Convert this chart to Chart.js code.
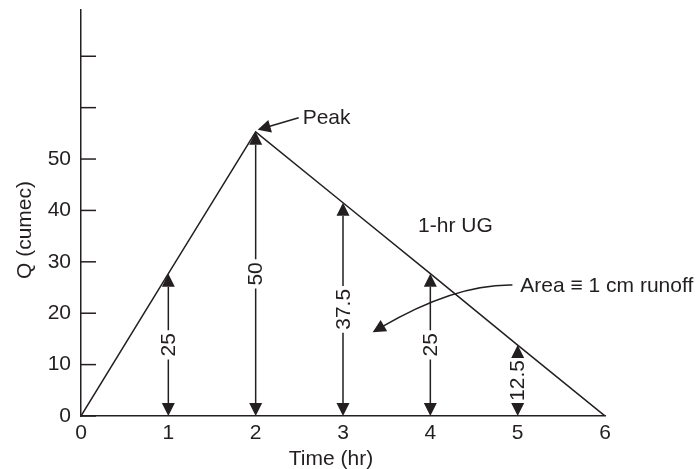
<!DOCTYPE html>
<html>
<head>
<meta charset="utf-8">
<script src="https://cdn.jsdelivr.net/npm/chart.js@4"></script>
<style>
  html, body { margin: 0; padding: 0; background: #fff; }
  #wrap { width: 696px; height: 469px; }
</style>
</head>
<body>
<div id="wrap"><canvas id="ugChart"></canvas></div>
<script>
// unit graph ordinates
const times = [0, 1, 2, 3, 4, 5, 6];
const flows = [0, 27.7, 55.3, 41.5, 27.7, 13.8, 0];
// marked ordinates (double arrows) and their labels
const arrowTimes = [1, 2, 3, 4, 5];
const arrowLabels = ["25", "50", "37.5", "25", "12.5"];
const yTickValues = [0, 10, 20, 30, 40, 50, 60, 70];
const yTickLabels = ["0", "10", "20", "30", "40", "50", "", ""];
const xTickLabels = ["0", "1", "2", "3", "4", "5", "6"];

const ink = "#231f20";
const family = "'Liberation Sans', Arial, sans-serif";
const font = "21px " + family;

function head(ctx, x, y, ang, len, half) {
  ctx.beginPath();
  ctx.moveTo(x, y);
  ctx.lineTo(x - len * Math.cos(ang) - half * Math.sin(ang), y - len * Math.sin(ang) + half * Math.cos(ang));
  ctx.lineTo(x - len * Math.cos(ang) + half * Math.sin(ang), y - len * Math.sin(ang) - half * Math.cos(ang));
  ctx.closePath();
  ctx.fill();
}

const notes = {
  id: "notes",
  afterDraw(chart) {
    const ctx = chart.ctx;
    const xs = chart.scales.x, ys = chart.scales.y;
    const area = chart.chartArea;
    ctx.save();
    ctx.strokeStyle = ink;
    ctx.fillStyle = ink;
    ctx.lineWidth = 1.5;
    ctx.font = font;

    // tick marks point inwards
    yTickValues.forEach(v => {
      const py = ys.getPixelForValue(v);
      ctx.beginPath();
      ctx.moveTo(area.left, py);
      ctx.lineTo(area.left + 15, py);
      ctx.stroke();
    });

    // double arrows with rotated labels
    const y0 = ys.getPixelForValue(0);
    arrowTimes.forEach((t, i) => {
      const px = xs.getPixelForValue(t);
      const top = ys.getPixelForValue(flows[times.indexOf(t)]);
      const mid = (top + y0) / 2;
      const w = ctx.measureText(arrowLabels[i]).width;
      const hl = 13;
      ctx.beginPath();
      ctx.moveTo(px, top + hl);
      ctx.lineTo(px, Math.max(top + hl, mid - w / 2 - 3));
      ctx.moveTo(px, Math.min(y0 - hl, mid + w / 2 + 3));
      ctx.lineTo(px, y0 - hl);
      ctx.stroke();
      head(ctx, px, top, -Math.PI / 2, hl, 6.5);
      head(ctx, px, y0, Math.PI / 2, hl, 6.5);
      ctx.save();
      ctx.translate(px + 1, mid);
      ctx.rotate(-Math.PI / 2);
      ctx.textAlign = "center";
      ctx.textBaseline = "middle";
      ctx.fillText(arrowLabels[i], 0, 0);
      ctx.restore();
    });

    // peak callout
    const pk = { x: xs.getPixelForValue(2), y: ys.getPixelForValue(55.3) };
    const tipX = pk.x + 2, tipY = pk.y - 2;
    const sx = pk.x + 43, sy = pk.y - 14;
    const a1 = Math.atan2(tipY - sy, tipX - sx);
    ctx.beginPath();
    ctx.moveTo(sx, sy);
    ctx.lineTo(tipX - 10 * Math.cos(a1), tipY - 10 * Math.sin(a1));
    ctx.stroke();
    head(ctx, tipX, tipY, a1, 13, 6.5);
    ctx.textAlign = "left";
    ctx.textBaseline = "middle";
    ctx.fillText("Peak", pk.x + 47, pk.y - 14);

    ctx.fillText("1-hr UG", xs.getPixelForValue(3.86), ys.getPixelForValue(37));

    // area callout with curved arrow
    const s = { x: xs.getPixelForValue(4.94), y: ys.getPixelForValue(25.5) };
    const c = { x: xs.getPixelForValue(4.28), y: ys.getPixelForValue(25.7) };
    const e = { x: xs.getPixelForValue(3.34), y: ys.getPixelForValue(16.3) };
    const a2 = Math.atan2(e.y - c.y, e.x - c.x);
    ctx.beginPath();
    ctx.moveTo(s.x, s.y);
    ctx.quadraticCurveTo(c.x, c.y, e.x - 9 * Math.cos(a2), e.y - 9 * Math.sin(a2));
    ctx.stroke();
    head(ctx, e.x, e.y, a2, 13, 6.5);
    ctx.fillText("Area \u2261 1 cm runoff", xs.getPixelForValue(5.03), ys.getPixelForValue(25.3));

    // axis titles
    ctx.textAlign = "center";
    ctx.fillText("Time (hr)", area.left + 250, area.bottom + 43);
    ctx.save();
    ctx.translate(area.left - 56, area.top + 220);
    ctx.rotate(-Math.PI / 2);
    ctx.fillText("Q (cumec)", 0, 0);
    ctx.restore();
    ctx.restore();
  }
};

new Chart(document.getElementById("ugChart"), {
  type: "scatter",
  data: {
    datasets: [{
      label: "1-hr UG",
      data: times.map((t, i) => ({ x: t, y: flows[i] })),
      showLine: true,
      borderColor: ink,
      borderWidth: 1.5,
      pointRadius: 0,
      tension: 0
    }]
  },
  options: {
    responsive: true,
    maintainAspectRatio: false,
    animation: false,
    layout: { padding: { top: 10, right: 91, left: 0, bottom: 0 } },
    plugins: { legend: { display: false }, tooltip: { enabled: false } },
    scales: {
      x: {
        type: "linear",
        min: 0,
        max: 6,
        afterFit: sc => { sc.height = 53; },
        grid: { display: false, drawTicks: false, tickLength: 0 },
        border: { display: true, color: ink, width: 1.5 },
        ticks: {
          stepSize: 1,
          padding: 5,
          color: ink,
          font: { family: family, size: 21 },
          callback: v => xTickLabels[times.indexOf(v)] ?? ""
        }
      },
      y: {
        min: 0,
        max: 79,
        afterFit: sc => { sc.width = 81; sc.paddingTop = 0; sc.paddingBottom = 0; },
        grid: { display: false, drawTicks: false, tickLength: 0 },
        border: { display: true, color: ink, width: 1.5 },
        ticks: {
          stepSize: 10,
          padding: 10,
          color: ink,
          font: { family: family, size: 21 },
          callback: v => yTickLabels[yTickValues.indexOf(v)] ?? ""
        }
      }
    }
  },
  plugins: [notes]
});
</script>
</body>
</html>
